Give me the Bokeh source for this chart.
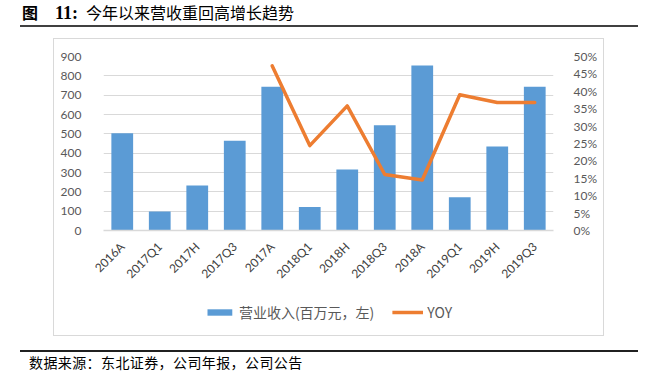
import math
from bokeh.plotting import figure
from bokeh.layouts import column
from bokeh.models import (ColumnDataSource, Range1d, LinearAxis, SingleIntervalTicker,
                          NumeralTickFormatter, Legend, LegendItem, Div, FactorRange)
from bokeh.embed import file_html
from bokeh.resources import INLINE

categories = ["2016A", "2017Q1", "2017H", "2017Q3", "2017A", "2018Q1",
              "2018H", "2018Q3", "2018A", "2019Q1", "2019H", "2019Q3"]
revenue = [503, 98, 233, 464, 743, 121, 316, 545, 854, 172, 434, 743]
yoy_categories = ["2017A", "2018Q1", "2018H", "2018Q3", "2018A", "2019Q1", "2019H", "2019Q3"]
yoy = [0.473, 0.244, 0.358, 0.161, 0.145, 0.390, 0.368, 0.368]

title_fig = "图"
title_num = "11:"
title_rest = "今年以来营收重回高增长趋势"
source_text = "数据来源：东北证券，公司年报，公司公告"
bar_name = "营业收入(百万元，左)"
line_name = "YOY"

BAR_COLOR = "#5B9BD5"
LINE_COLOR = "#ED7D31"

p = figure(width=549, height=250, x_range=FactorRange(*categories), y_range=Range1d(0, 900),
           output_backend="svg", toolbar_location=None,
           min_border_left=49, min_border_right=50, min_border_top=17, min_border_bottom=56,
           margin=0)
p.outline_line_color = None
p.background_fill_color = "white"
p.border_fill_color = "white"
p.x_range.range_padding = 0
p.extra_y_ranges = {"yoy": Range1d(0, 0.5)}

src = ColumnDataSource(dict(x=categories, y=revenue))
p.vbar(x="x", top="y", width=0.58, source=src, fill_color=BAR_COLOR, line_color=None)
lsrc = ColumnDataSource(dict(x=yoy_categories, y=yoy))
p.line(x="x", y="y", source=lsrc, y_range_name="yoy", line_color=LINE_COLOR,
       line_width=3.5, line_join="round", line_cap="round")

tick_font = "Lato"
tick_color = "#595959"

la = p.yaxis[0]
la.ticker = SingleIntervalTicker(interval=100)
la.axis_line_color = None
la.major_tick_line_color = None
la.minor_tick_line_color = None
la.major_label_text_font = tick_font
la.major_label_text_font_size = "12px"
la.major_label_text_color = tick_color
la.major_label_standoff = 16

ra = LinearAxis(y_range_name="yoy", ticker=SingleIntervalTicker(interval=0.05),
                formatter=NumeralTickFormatter(format="0%"))
ra.axis_line_color = None
ra.major_tick_line_color = None
ra.minor_tick_line_color = None
ra.major_label_text_font = tick_font
ra.major_label_text_font_size = "12px"
ra.major_label_text_color = tick_color
ra.major_label_standoff = 14
p.add_layout(ra, "right")

xa = p.xaxis[0]
xa.axis_line_color = "#D9D9D9"
xa.axis_line_width = 1.5
xa.major_tick_line_color = None
xa.minor_tick_line_color = None
xa.major_label_orientation = math.pi / 4
xa.major_label_text_font = tick_font
xa.major_label_text_font_size = "12px"
xa.major_label_text_color = "#404040"
xa.major_label_standoff = 8

p.xgrid.grid_line_color = None
p.ygrid.grid_line_color = "#D9D9D9"
p.ygrid.grid_line_width = 1.2
p.ygrid.ticker = SingleIntervalTicker(interval=100)

# legend strip: a legend-only figure whose sample renderers are hidden
lg = figure(width=549, height=46, x_range=FactorRange(*categories), y_range=Range1d(0, 900),
            x_axis_type=None, y_axis_type=None, output_backend="svg", toolbar_location=None,
            min_border=0, margin=0)
lg.outline_line_color = None
lg.grid.grid_line_color = None
lb = lg.vbar(x="x", top="y", width=0.58, source=src, fill_color=BAR_COLOR, line_color=None,
             visible=False)
ll = lg.line(x="x", y="y", source=lsrc, line_color=LINE_COLOR, line_width=3.5, visible=False)
legend = Legend(items=[LegendItem(label=bar_name, renderers=[lb]),
                       LegendItem(label=line_name, renderers=[ll])],
                orientation="horizontal", location="center",
                glyph_width=31, glyph_height=8, label_height=16,
                label_text_font="Noto Sans CJK SC", label_text_font_size="14px",
                label_text_color=tick_color, padding=0, margin=0, spacing=18,
                label_standoff=4, border_line_color=None, background_fill_alpha=0)
lg.add_layout(legend, "center")

title_html = (f"<b>{title_fig}</b><span style='display:inline-block;width:17px'></span>"
              f"<b style='font-family:\"Liberation Serif\";font-size:18px'>{title_num}</b>"
              f"<span style='display:inline-block;width:8px'></span>{title_rest}")
title_div = Div(text=title_html, width=618, height=27, margin=(0, 0, 0, 20),
                styles={"font-family": "Noto Sans CJK SC", "font-size": "16px",
                        "color": "#000000", "border-bottom": "2px solid #404040",
                        "padding-left": "2px", "line-height": "25px",
                        "box-sizing": "border-box", "white-space": "nowrap"})
box = column(p, lg, margin=(11, 0, 0, 53), spacing=0,
             styles={"border": "1px solid #D9D9D9"})
footer_div = Div(text=source_text, width=618, height=30, margin=(14, 0, 0, 20),
                 styles={"font-family": "Noto Sans CJK SC", "font-size": "14px",
                         "color": "#000000", "border-top": "2px solid #202020",
                         "padding-left": "9px", "line-height": "20px",
                         "letter-spacing": "0.4px", "box-sizing": "border-box"})

layout = column(title_div, box, footer_div, spacing=0)
open("out.html", "w").write(file_html(layout, INLINE))
